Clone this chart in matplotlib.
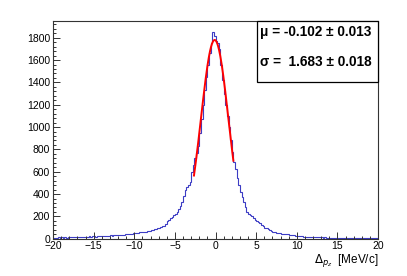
import numpy as np
import matplotlib
matplotlib.use("Agg")
import matplotlib.pyplot as plt
from matplotlib.ticker import MultipleLocator

plt.rcParams['font.family'] = ['Liberation Sans', 'DejaVu Sans']

# histogram: 200 bins of width 0.2 from -20 to 20
bin_lo, bin_hi, n_bins = -20.0, 20.0, 200
counts = [
    8, 10, 7, 12, 9,
    11, 9, 13, 10, 12,
    12, 14, 11, 15, 13,
    14, 16, 13, 17, 15,
    18, 16, 20, 17, 21,
    22, 19, 24, 21, 25,
    24, 27, 23, 28, 26,
    29, 27, 32, 30, 33,
    34, 31, 37, 35, 39,
    40, 38, 44, 42, 47,
    48, 52, 50, 56, 58,
    60, 64, 62, 70, 72,
    76, 80, 84, 88, 94,
    98, 104, 112, 118, 128,
    155, 170, 182, 195, 210,
    225, 242, 265, 290, 330,
    380, 436, 460, 480, 510,
    600, 660, 720, 770, 830,
    950, 1070, 1200, 1330, 1450,
    1560, 1660, 1750, 1850, 1820,
    1770, 1750, 1700, 1560, 1420,
    1300, 1200, 1100, 1000, 880,
    780, 690, 620, 543, 480,
    420, 373, 330, 280, 240,
    225, 212, 200, 185, 170,
    160, 150, 138, 125, 112,
    100, 92, 84, 78, 70,
    64, 58, 54, 51, 48,
    46, 44, 42, 40, 38,
    36, 34, 32, 30, 28,
    24, 22, 20, 21, 18,
    17, 16, 18, 14, 15,
    14, 12, 13, 11, 12,
    11, 10, 12, 9, 10,
    9, 10, 8, 9, 8,
    8, 7, 9, 7, 8,
    7, 8, 6, 7, 8,
    6, 7, 6, 8, 6,
    7, 5, 6, 7, 6,
    5, 6, 5, 7, 5,
]

# gaussian fit result
fit_amp = 1780.0
fit_mu = -0.102
fit_mu_err = 0.013
fit_sigma = 1.683
fit_sigma_err = 0.018
fit_range = (-2.65, 2.2)

W, H = 407, 276
fig = plt.figure(figsize=(W / 100, H / 100), dpi=100)
left, right, top, bottom = 53, 378, 21, 238.7
ax = fig.add_axes([left / W, 1 - bottom / H, (right - left) / W, (bottom - top) / H])

edges = np.linspace(bin_lo, bin_hi, n_bins + 1)
ax.stairs(counts, edges, baseline=None, color='#3c3cc4', lw=0.8)

xf = np.linspace(fit_range[0], fit_range[1], 200)
yf = fit_amp * np.exp(-0.5 * ((xf - fit_mu) / fit_sigma) ** 2)
ax.plot(xf, yf, color='#ff0000', lw=1.4)

ax.set_xlim(-20, 20)
ax.set_ylim(0, 1950)
ax.xaxis.set_major_locator(MultipleLocator(5))
ax.xaxis.set_minor_locator(MultipleLocator(1))
ax.yaxis.set_major_locator(MultipleLocator(200))
ax.yaxis.set_minor_locator(MultipleLocator(40))
ax.tick_params(which='both', direction='in', top=False, right=False,
               labelsize=7.5, color='#333333', width=0.7)
ax.tick_params(which='major', length=5)
ax.tick_params(which='minor', length=2.5)
ax.tick_params(axis='y', pad=2)
ax.tick_params(axis='x', pad=2)
for s in ax.spines.values():
    s.set_color('#333333')
    s.set_linewidth(0.8)

fig.text(right / W, 1 - 263 / H, r'$\Delta_{p_{z}}$  [MeV/c]', ha='right',
         va='baseline', fontsize=8.5)

# stats box
bx0, bx1, by0, by1 = 257, 378, 21, 82
box = plt.Rectangle((bx0 / W, 1 - by1 / H), (bx1 - bx0) / W, (by1 - by0) / H,
                    transform=fig.transFigure, facecolor='white',
                    edgecolor='black', lw=0.9, zorder=5)
fig.patches.append(box)
fig.text(260 / W, 1 - 32 / H, u'\u03bc = %.3f \u00b1 %.3f' % (fit_mu, fit_mu_err),
         ha='left', va='center', fontsize=9.8, fontweight='bold', zorder=6)
fig.text(260 / W, 1 - 62 / H, u'\u03c3 =  %.3f \u00b1 %.3f' % (fit_sigma, fit_sigma_err),
         ha='left', va='center', fontsize=9.8, fontweight='bold', zorder=6)

fig.savefig('out.png', dpi=100)
